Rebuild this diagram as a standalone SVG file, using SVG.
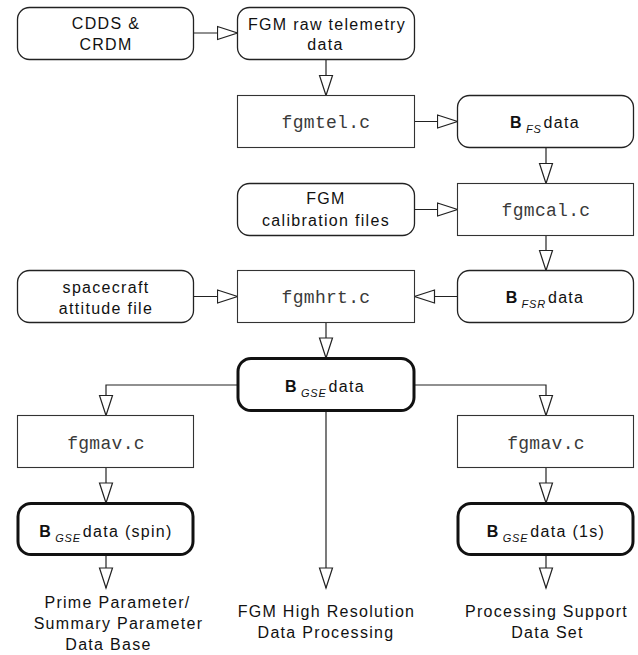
<svg xmlns="http://www.w3.org/2000/svg" width="638" height="655" viewBox="0 0 638 655">
<style>
.bg{fill:#fff}
.rr{fill:#fff;stroke:#222;stroke-width:1.3}
.rc{fill:#fff;stroke:#333;stroke-width:1.1}
.th{fill:#fff;stroke:#111;stroke-width:3}
.t{font-family:"Liberation Sans",Arial,sans-serif;font-size:16px;letter-spacing:1.3px;fill:#111;text-anchor:middle}
.m{font-family:"Liberation Mono","Courier New",monospace;font-size:18px;fill:#3a3a3a;text-anchor:middle;letter-spacing:0.3px}
.b{font-weight:bold}
.s{font-style:italic;font-size:11px;letter-spacing:0.8px}
.c{fill:none;stroke:#222;stroke-width:1.2}
</style>
<defs>
<marker id="ah" markerUnits="userSpaceOnUse" markerWidth="24" markerHeight="18" viewBox="0 0 24 18" refX="21" refY="8" orient="auto">
<path d="M1,1.5 L21,8 L1,14.5 Z" fill="#fff" stroke="#222" stroke-width="1.2"/>
</marker>
</defs>
<rect class="bg" x="0" y="0" width="638" height="655"/>
<g id="connectors">
<path class="c" d="M193.5,33 H237.5" marker-end="url(#ah)"/>
<path class="c" d="M326,59.5 V95.5" marker-end="url(#ah)"/>
<path class="c" d="M414.5,121.5 H457.5" marker-end="url(#ah)"/>
<path class="c" d="M546,147.5 V183.5" marker-end="url(#ah)"/>
<path class="c" d="M414.5,209.5 H457.5" marker-end="url(#ah)"/>
<path class="c" d="M546,235.5 V270.5" marker-end="url(#ah)"/>
<path class="c" d="M457.5,296.5 H414.5" marker-end="url(#ah)"/>
<path class="c" d="M193.5,296.5 H237.5" marker-end="url(#ah)"/>
<path class="c" d="M326,322.5 V358" marker-end="url(#ah)"/>
<path class="c" d="M237.5,385 H106 V415.5" marker-end="url(#ah)"/>
<path class="c" d="M414.5,385 H546 V415.5" marker-end="url(#ah)"/>
<path class="c" d="M106,467.5 V503" marker-end="url(#ah)"/>
<path class="c" d="M546,467.5 V503" marker-end="url(#ah)"/>
<path class="c" d="M106,555 V588" marker-end="url(#ah)"/>
<path class="c" d="M326,411 V588" marker-end="url(#ah)"/>
<path class="c" d="M546,555 V588" marker-end="url(#ah)"/>
</g>
<g id="cdds">
<rect class="rr" x="17.5" y="7.5" width="176" height="52" rx="12"/>
<text class="t" x="106" y="28.5">CDDS &amp;</text>
<text class="t" x="106" y="50">CRDM</text>
</g>
<g id="raw">
<rect class="rr" x="237.5" y="7.5" width="177" height="52" rx="12"/>
<text class="t" x="327" y="29.5">FGM raw telemetry</text>
<text class="t" x="325.5" y="49.5">data</text>
</g>
<g id="fgmtel">
<rect class="rc" x="237.5" y="95.5" width="177" height="52"/>
<text class="m" x="326" y="127.5">fgmtel.c</text>
</g>
<g id="bfs">
<rect class="rr" x="457.5" y="95.5" width="176" height="52" rx="12"/>
<text class="t" x="545" y="128"><tspan class="b">B</tspan><tspan class="s" dx="3" dy="5">FS</tspan><tspan dx="2" dy="-5">data</tspan></text>
</g>
<g id="calib">
<rect class="rr" x="237.5" y="183.5" width="177" height="52" rx="12"/>
<text class="t" x="326" y="204">FGM</text>
<text class="t" x="326" y="225.5">calibration files</text>
</g>
<g id="fgmcal">
<rect class="rc" x="457.5" y="183.5" width="176" height="52"/>
<text class="m" x="546" y="215.5">fgmcal.c</text>
</g>
<g id="attitude">
<rect class="rr" x="17.5" y="270.5" width="176" height="52" rx="12"/>
<text class="t" x="106" y="292.5">spacecraft</text>
<text class="t" x="106" y="313.5">attitude file</text>
</g>
<g id="fgmhrt">
<rect class="rc" x="237.5" y="270.5" width="177" height="52"/>
<text class="m" x="326" y="303">fgmhrt.c</text>
</g>
<g id="bfsr">
<rect class="rr" x="457.5" y="270.5" width="176" height="52" rx="12"/>
<text class="t" x="545" y="303"><tspan class="b">B</tspan><tspan class="s" dx="3" dy="5">FSR</tspan><tspan dx="2" dy="-5">data</tspan></text>
</g>
<g id="bgse">
<rect class="th" x="238" y="358.5" width="176" height="52" rx="13"/>
<text class="t" x="325" y="392"><tspan class="b">B</tspan><tspan class="s" dx="3" dy="5">GSE</tspan><tspan dx="2" dy="-5">data</tspan></text>
</g>
<g id="fgmav1">
<rect class="rc" x="17.5" y="415.5" width="176" height="52"/>
<text class="m" x="106" y="449">fgmav.c</text>
</g>
<g id="fgmav2">
<rect class="rc" x="457.5" y="415.5" width="176" height="52"/>
<text class="m" x="546" y="449">fgmav.c</text>
</g>
<g id="spin">
<rect class="th" x="18" y="503.5" width="175" height="51" rx="13"/>
<text class="t" x="106" y="536.5"><tspan class="b">B</tspan><tspan class="s" dx="3" dy="5">GSE</tspan><tspan dx="2" dy="-5">data (spin)</tspan></text>
</g>
<g id="onesec">
<rect class="th" x="458" y="503.5" width="175" height="51" rx="13"/>
<text class="t" x="546" y="536.5"><tspan class="b">B</tspan><tspan class="s" dx="3" dy="5">GSE</tspan><tspan dx="2" dy="-5">data (1s)</tspan></text>
</g>
<g id="out-prime">
<text class="t" x="117.5" y="607.5">Prime Parameter/</text>
<text class="t" x="118.5" y="628.5">Summary Parameter</text>
<text class="t" x="108.5" y="650">Data Base</text>
</g>
<g id="out-hires">
<text class="t" x="326.5" y="616.5">FGM High Resolution</text>
<text class="t" x="326" y="638">Data Processing</text>
</g>
<g id="out-psds">
<text class="t" x="546.5" y="616.5">Processing Support</text>
<text class="t" x="547.5" y="638">Data Set</text>
</g>
</svg>
